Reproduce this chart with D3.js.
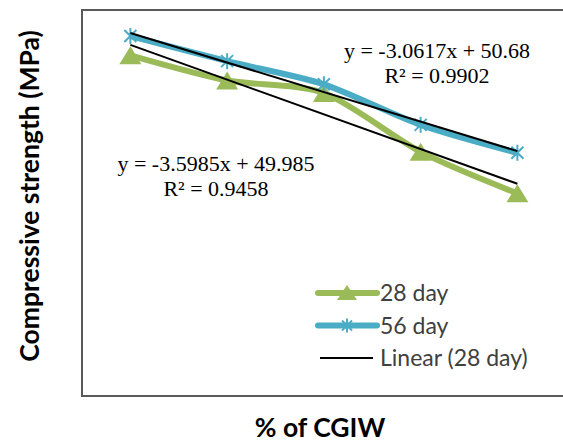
<!DOCTYPE html>
<html>
<head>
<meta charset="utf-8">
<script src="https://cdn.jsdelivr.net/npm/d3@7"></script>
<style>
  body { margin: 0; background: #fff; }
  svg { display: block; }
</style>
</head>
<body>
<div id="chart"></div>
<script>
// chart values
var categories = [1, 2, 3, 4, 5];
var day28 = [45.3, 42.7, 41.4, 35.3, 31.0];
var day56 = [47.3, 44.7, 42.3, 38.1, 35.2];
var seriesNames = ["28 day", "56 day", "Linear (28 day)"];
// trendline equations: [slope, intercept]
var trend28 = [-3.5985, 49.985];
var trend56 = [-3.0617, 50.68];
var eqText28 = ["y = -3.5985x + 49.985", "R\u00b2 = 0.9458"];
var eqText56 = ["y = -3.0617x + 50.68", "R\u00b2 = 0.9902"];

var width = 563, height = 442;
var green = "#9bbb59", blue = "#4bacc6";

var svg = d3.select("#chart").append("svg")
  .attr("width", width).attr("height", height);

// plot area (right edge runs off the picture)
var plotL = 82, plotT = 10, plotB = 396, bandW = 96.75;
var plotR = plotL + bandW * categories.length;

var x = d3.scaleBand().domain(categories).range([plotL, plotR]);
var y = d3.scaleLinear().domain([10, 50]).range([plotB, plotT]);
var cx = function(c){ return x(c) + x.bandwidth() / 2; };

svg.append("rect")
  .attr("x", plotL).attr("y", plotT)
  .attr("width", plotR - plotL).attr("height", plotB - plotT)
  .attr("fill", "none").attr("stroke", "#595959").attr("stroke-width", 2);

var line = d3.line()
  .x(function(d){ return cx(d.c); })
  .y(function(d){ return y(d.v); })
  .curve(d3.curveCardinal.tension(0.2));

function pts(vals){ return categories.map(function(c, i){ return {c: c, v: vals[i]}; }); }

// series lines
svg.append("path").datum(pts(day28))
  .attr("d", line).attr("fill", "none")
  .attr("stroke", green).attr("stroke-width", 6).attr("stroke-linejoin", "round");
svg.append("path").datum(pts(day56))
  .attr("d", line).attr("fill", "none")
  .attr("stroke", blue).attr("stroke-width", 6).attr("stroke-linejoin", "round");

// triangle markers
var tri = "M0,-9L11,9L-11,9Z";
svg.selectAll(".tri").data(pts(day28)).enter().append("path")
  .attr("class", "tri")
  .attr("d", tri)
  .attr("transform", function(d){ return "translate(" + cx(d.c) + "," + y(d.v) + ")"; })
  .attr("fill", green);

// star markers
var star = "M-6,-6L6,6M-6,6L6,-6M0,-8L0,8";
svg.selectAll(".star").data(pts(day56)).enter().append("path")
  .attr("class", "star")
  .attr("d", star)
  .attr("transform", function(d){ return "translate(" + cx(d.c) + "," + y(d.v) + ")"; })
  .attr("fill", "none").attr("stroke", blue).attr("stroke-width", 2);

// trendlines
[trend56, trend28].forEach(function(t){
  var c0 = categories[0], c1 = categories[categories.length - 1];
  svg.append("line")
    .attr("x1", cx(c0)).attr("y1", y(t[0] * c0 + t[1]))
    .attr("x2", cx(c1)).attr("y2", y(t[0] * c1 + t[1]))
    .attr("stroke", "#000").attr("stroke-width", 2);
});

// equation labels
function eq(lines, xc, yb){
  svg.append("g").selectAll("text").data(lines).enter().append("text")
    .attr("x", xc).attr("y", function(d, i){ return yb + i * 25; })
    .attr("text-anchor", "middle")
    .style("font-family", "'Liberation Serif', 'Times New Roman', serif")
    .style("font-size", "22px")
    .attr("fill", "#000")
    .text(function(d){ return d; });
}
eq(eqText56, 437, 58);
eq(eqText28, 216, 171);

// legend
var lg = svg.append("g").attr("transform", "translate(318,293)");
var rows = lg.selectAll("g").data(seriesNames).enter().append("g")
  .attr("transform", function(d, i){ return "translate(0," + (i * 32.5) + ")"; });
rows.append("line")
  .attr("x1", function(d, i){ return i < 2 ? 0 : 2; })
  .attr("x2", function(d, i){ return i < 2 ? 59 : 55; })
  .attr("stroke", function(d, i){ return [green, blue, "#000"][i]; })
  .attr("stroke-width", function(d, i){ return i < 2 ? 6 : 2; })
  .attr("stroke-linecap", function(d, i){ return i < 2 ? "round" : "butt"; });
rows.filter(function(d, i){ return i == 0; }).append("path")
  .attr("d", "M0,-8L10,7L-10,7Z").attr("transform", "translate(29,0)").attr("fill", green);
rows.filter(function(d, i){ return i == 1; }).append("path")
  .attr("d", "M-5,-5L5,5M-5,5L5,-5M0,-7L0,7").attr("transform", "translate(29,0)")
  .attr("fill", "none").attr("stroke", blue).attr("stroke-width", 2);
rows.append("text")
  .attr("x", 62).attr("y", 8)
  .style("font-family", "Lato, 'Open Sans', sans-serif")
  .style("font-size", "23px")
  .attr("fill", "#404040")
  .text(function(d){ return d; });

// axis titles
svg.append("text")
  .attr("transform", "translate(39,196) rotate(-90)")
  .attr("text-anchor", "middle")
  .style("font-family", "Lato, 'Open Sans', sans-serif")
  .style("font-size", "26.5px").style("font-weight", "bold")
  .text("Compressive strength (MPa)");
svg.append("text")
  .attr("x", 320).attr("y", 437)
  .attr("text-anchor", "middle")
  .style("font-family", "Lato, 'Open Sans', sans-serif")
  .style("font-size", "26.5px").style("font-weight", "bold")
  .text("% of CGIW");
</script>
</body>
</html>
